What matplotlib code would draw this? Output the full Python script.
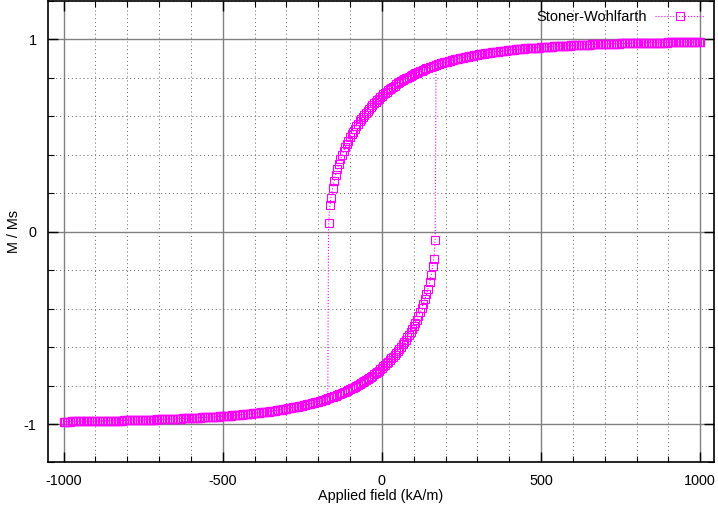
import numpy as np
import matplotlib
matplotlib.use("Agg")
import matplotlib.pyplot as plt
from matplotlib.ticker import MultipleLocator

# rama superior (campo decreciente de 1000 a -167.5 kA/m)
campo = list(range(1000, -160, -5)) + [-160, -163, -167.5]
mag = [0.987, 0.987, 0.987, 0.987, 0.987, 0.986, 0.986, 0.986, 0.986, 0.986,  # 1000..955
       0.986, 0.986, 0.986, 0.985, 0.985, 0.985, 0.985, 0.985, 0.985, 0.985,  # 950..905
       0.985, 0.984, 0.984, 0.984, 0.984, 0.984, 0.984, 0.983, 0.983, 0.983,  # 900..855
       0.983, 0.983, 0.983, 0.982, 0.982, 0.982, 0.982, 0.982, 0.981, 0.981,  # 850..805
       0.981, 0.981, 0.981, 0.980, 0.980, 0.980, 0.980, 0.979, 0.979, 0.979,  # 800..755
       0.979, 0.978, 0.978, 0.978, 0.978, 0.977, 0.977, 0.977, 0.977, 0.976,  # 750..705
       0.976, 0.976, 0.976, 0.975, 0.975, 0.974, 0.974, 0.974, 0.974, 0.973,  # 700..655
       0.973, 0.972, 0.972, 0.972, 0.972, 0.971, 0.971, 0.970, 0.970, 0.969,  # 650..605
       0.969, 0.969, 0.968, 0.968, 0.968, 0.967, 0.967, 0.966, 0.966, 0.965,  # 600..555
       0.965, 0.964, 0.964, 0.963, 0.963, 0.962, 0.962, 0.961, 0.960, 0.960,  # 550..505
       0.959, 0.958, 0.958, 0.957, 0.957, 0.956, 0.955, 0.955, 0.954, 0.953,  # 500..455
       0.953, 0.952, 0.951, 0.950, 0.949, 0.949, 0.948, 0.947, 0.946, 0.945,  # 450..405
       0.944, 0.943, 0.942, 0.941, 0.940, 0.939, 0.938, 0.937, 0.936, 0.935,  # 400..355
       0.934, 0.933, 0.931, 0.930, 0.929, 0.927, 0.926, 0.925, 0.924, 0.922,  # 350..305
       0.921, 0.919, 0.918, 0.916, 0.914, 0.913, 0.911, 0.909, 0.908, 0.906,  # 300..255
       0.904, 0.902, 0.900, 0.898, 0.896, 0.894, 0.892, 0.889, 0.887, 0.885,  # 250..205
       0.883, 0.881, 0.878, 0.875, 0.873, 0.870, 0.867, 0.864, 0.861, 0.858,  # 200..155
       0.855, 0.852, 0.849, 0.845, 0.842, 0.838, 0.835, 0.831, 0.827, 0.823,  # 150..105
       0.819, 0.815, 0.811, 0.806, 0.802, 0.797, 0.792, 0.787, 0.782, 0.777,  # 100..55
       0.771, 0.766, 0.760, 0.754, 0.748, 0.742, 0.735, 0.728, 0.722, 0.714,  # 50..5
       0.707, 0.700, 0.692, 0.684, 0.675, 0.667, 0.658, 0.649, 0.639, 0.629,  # 0..-45
       0.619, 0.608, 0.597, 0.586, 0.574, 0.562, 0.549, 0.535, 0.521, 0.506,  # -50..-95
       0.491, 0.474, 0.457, 0.439, 0.419, 0.399, 0.376, 0.352, 0.326, 0.297,  # -100..-145
       0.263, 0.225,                                                          # -150, -155
       0.177, 0.141, 0.045]                                                   # -160, -163, -167.5

campo = np.array(campo, dtype=float)
mag = np.array(mag)
assert len(campo) == len(mag)

# despues del salto: rama inferior (simetrica a la superior)
sel = campo >= 170
h_bajada = np.concatenate([campo, -campo[sel][::-1]])
m_bajada = np.concatenate([mag, -mag[sel][::-1]])
# ciclo de vuelta
h_total = np.concatenate([h_bajada, -h_bajada])
m_total = np.concatenate([m_bajada, -m_bajada])

plt.rcParams['font.family'] = ['Liberation Sans', 'DejaVu Sans']
plt.rcParams['axes.unicode_minus'] = False

fig = plt.figure(figsize=(7.18, 5.08), dpi=100)
ax = fig.add_axes([0.0664, 0.0896, 0.9287, 0.9085])

ax.plot(h_total, m_total, color='#ff00ff', linestyle=':', linewidth=0.8,
        marker='s', markersize=5.5, markerfacecolor='none',
        markeredgewidth=0.8, label='Stoner-Wohlfarth', zorder=3)

ax.set_xlim(-1050, 1045)
ax.set_ylim(-1.2, 1.2)
ax.xaxis.set_major_locator(MultipleLocator(500))
ax.xaxis.set_minor_locator(MultipleLocator(100))
ax.yaxis.set_major_locator(MultipleLocator(1))
ax.yaxis.set_minor_locator(MultipleLocator(0.2))

# rejilla estilo gnuplot
ax.grid(which='major', color='#808080', linestyle='-', linewidth=1.0)
ax.grid(which='minor', color='#606060', linestyle=(0, (1, 3)), linewidth=0.7)
ax.set_axisbelow(True)

ax.tick_params(which='both', direction='in', top=True, right=True,
               labelsize=10.4)
ax.tick_params(axis='x', pad=8)
ax.tick_params(axis='y', pad=8)
ax.tick_params(which='major', length=7, width=1)
ax.tick_params(which='minor', length=4, width=0.8)
for s in ax.spines.values():
    s.set_linewidth(1.2)

ax.set_xlabel('Applied field (kA/m)', fontsize=10.4, labelpad=1)
ax.set_ylabel('M / Ms', fontsize=10.4, labelpad=2)

leg = ax.legend(loc='upper right', frameon=False, markerfirst=False,
                fontsize=10.5, handlelength=3.4, handletextpad=0.6,
                borderaxespad=0.25)

fig.savefig('out.png', dpi=100)
